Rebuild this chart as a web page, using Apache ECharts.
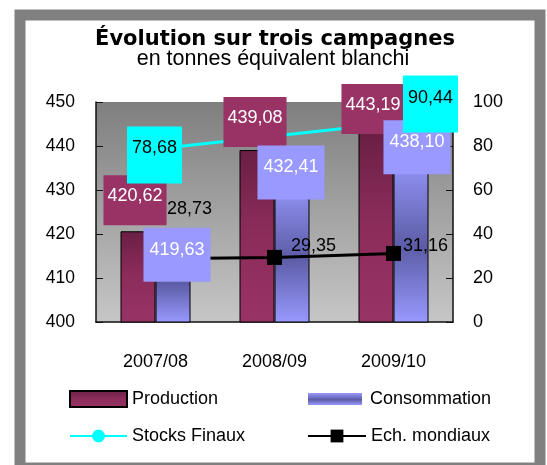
<!DOCTYPE html>
<html>
<head>
<meta charset="utf-8">
<script src="https://cdn.jsdelivr.net/npm/echarts@6/dist/echarts.min.js"></script>
<style>
    html, body { margin: 0; padding: 0; background: #fff; }
    #chart { width: 547px; height: 465px; }
</style>
</head>
<body>
<div id="chart"></div>
<script>
// values
const campagnes = ['2007/08', '2008/09', '2009/10']
const production = [420.62, 439.08, 443.19]
const consommation = [419.63, 432.41, 438.10]
const stocksFinaux = [78.68, 84.5, 90.44]
const echMondiaux = [28.73, 29.35, 31.16]

// where each data label sits, relative to its mark (px)
const prodOffsets = [[-3, -6], [-2, -3], [-3, 2]]
const consoOffsets = [[4, 46], [-1, 20], [6, 20]]
const stockOffsets = [[-1, 35], null, [37, 10]]
const echOffsets = [[34, -33], [39, 5], [32, 9]]

const font = 'Liberation Sans, Arial, sans-serif'
const fr = v => v.toFixed(2).replace('.', ',')

function withLabels (values, offsets, base) {
    return values.map(function (v, i) {
        if (!offsets[i]) {
            return { value: v, label: { show: false } }
        }
        return { value: v, label: Object.assign({}, base, { offset: offsets[i] }) }
    })
}

const boxLabel = {
    show: true,
    position: 'top',
    distance: 0,
    fontSize: 18,
    lineHeight: 18,
    fontFamily: font,
    formatter: p => fr(p.value)
}

const prodLabel = Object.assign({}, boxLabel, { color: '#fff', backgroundColor: '#993366', padding: [12, 4, 20, 4] })
const consoLabel = Object.assign({}, boxLabel, { color: '#fff', backgroundColor: '#9999ff', padding: [13, 6, 23, 6] })
const stockLabel = Object.assign({}, boxLabel, { color: '#000', backgroundColor: '#00ffff', padding: [13, 5, 26, 5] })
const echLabel = Object.assign({}, boxLabel, { color: '#000' })

const legendText = { fontFamily: font, fontSize: 18, color: '#000' }

let chart = echarts.init(document.getElementById('chart'))
chart.setOption({
    animation: false,
    backgroundColor: '#fff',
    graphic: [
        {
            type: 'rect',
            shape: { x: 20, y: 15, width: 520, height: 453 },
            style: { fill: 'none', stroke: '#808080', lineWidth: 11 },
            silent: true
        }
    ],
    title: [
        {
            text: 'Évolution sur trois campagnes',
            left: 270,
            top: 24,
            textAlign: 'center',
            textStyle: { fontFamily: 'DejaVu Sans', fontWeight: 'bold', fontSize: 21, color: '#000' }
        },
        {
            text: 'en tonnes équivalent blanchi',
            left: 268,
            top: 43,
            textAlign: 'center',
            textStyle: { fontFamily: font, fontWeight: 'normal', fontSize: 21.5, color: '#000' }
        }
    ],
    legend: [
        { data: ['Production'], left: 69, top: 390, padding: 0, icon: 'rect', itemWidth: 57, itemHeight: 16,
          textStyle: legendText },
        { data: ['Consommation'], left: 308, top: 390, padding: 0, icon: 'rect', itemWidth: 54, itemHeight: 12,
          itemStyle: { borderWidth: 0 },
          textStyle: Object.assign({ padding: [0, 0, 0, 3] }, legendText) },
        { data: ['Stocks Finaux'], left: 69, top: 427, padding: 0, itemWidth: 57, itemHeight: 16,
          textStyle: legendText },
        { data: ['Ech. mondiaux'], left: 307, top: 427, padding: 0, itemWidth: 58, itemHeight: 16,
          textStyle: legendText }
    ],
    grid: {
        left: 96,
        right: 94,
        top: 102,
        bottom: 143,
        show: true,
        borderWidth: 0,
        backgroundColor: new echarts.graphic.LinearGradient(0, 0, 0, 1, [
            { offset: 0, color: '#7f7f7f' },
            { offset: 1, color: '#c6c6c6' }
        ])
    },
    xAxis: [
        {
            type: 'category',
            data: campagnes,
            axisLine: { lineStyle: { color: '#111', width: 1.5 } },
            axisTick: { inside: true, length: 6, lineStyle: { color: '#111' } },
            axisLabel: { fontFamily: font, fontSize: 18, color: '#000', margin: 31 }
        },
        {
            // same categories, only carries the bar labels above the lines
            type: 'category',
            data: campagnes,
            show: false
        }
    ],
    yAxis: [
        {
            type: 'value',
            min: 400,
            max: 450,
            interval: 10,
            splitLine: { show: false },
            axisLine: { show: true, lineStyle: { color: '#111', width: 1.5 } },
            axisTick: { show: true, inside: true, length: 7, lineStyle: { color: '#111' } },
            axisLabel: { fontFamily: font, fontSize: 17.5, color: '#000', margin: 21 }
        },
        {
            type: 'value',
            min: 0,
            max: 100,
            interval: 20,
            position: 'right',
            splitLine: { show: false },
            axisLine: { show: true, lineStyle: { color: '#111', width: 1.5 } },
            axisTick: { show: true, inside: true, length: 7, lineStyle: { color: '#111' } },
            axisLabel: { fontFamily: font, fontSize: 18, color: '#000', margin: 20 }
        }
    ],
    series: [
        {
            name: 'Production',
            type: 'bar',
            z: 2,
            barWidth: 35,
            barGap: '0%',
            itemStyle: {
                color: new echarts.graphic.LinearGradient(0, 0, 0, 1, [
                    { offset: 0, color: '#6a1f44' },
                    { offset: 0.45, color: '#8a2c5a' },
                    { offset: 1, color: '#993366' }
                ]),
                borderColor: '#000',
                borderWidth: 1
            },
            data: production
        },
        {
            name: 'Consommation',
            type: 'bar',
            z: 2,
            barWidth: 35,
            itemStyle: {
                color: new echarts.graphic.LinearGradient(0, 0, 0, 1, [
                    { offset: 0, color: '#9999ff' },
                    { offset: 0.55, color: '#5c5ca6' },
                    { offset: 1, color: '#9999ff' }
                ]),
                borderColor: '#000',
                borderWidth: 1
            },
            data: consommation
        },
        {
            name: 'Stocks Finaux',
            type: 'line',
            yAxisIndex: 1,
            z: 3,
            symbol: 'circle',
            symbolSize: 13,
            color: '#00ffff',
            lineStyle: { color: '#00ffff', width: 3 },
            itemStyle: { color: '#00ffff' },
            data: stocksFinaux
        },
        {
            name: 'Ech. mondiaux',
            type: 'line',
            yAxisIndex: 1,
            z: 3,
            symbol: 'rect',
            symbolSize: 15,
            color: '#000',
            lineStyle: { color: '#000', width: 3 },
            itemStyle: { color: '#000' },
            data: withLabels(echMondiaux, echOffsets, echLabel)
        },
        // label carriers, drawn over the lines
        {
            name: 'Production-labels',
            type: 'bar',
            xAxisIndex: 1,
            z: 4,
            barWidth: 35,
            barGap: '0%',
            silent: true,
            itemStyle: { color: 'transparent' },
            data: withLabels(production, prodOffsets, prodLabel)
        },
        {
            name: 'Consommation-labels',
            type: 'bar',
            xAxisIndex: 1,
            z: 4,
            barWidth: 35,
            silent: true,
            itemStyle: { color: 'transparent' },
            data: withLabels(consommation, consoOffsets, consoLabel)
        },
        {
            name: 'Stocks-labels',
            type: 'line',
            yAxisIndex: 1,
            z: 5,
            silent: true,
            symbol: 'circle',
            symbolSize: 1,
            lineStyle: { width: 0, color: 'transparent' },
            itemStyle: { color: 'transparent' },
            data: withLabels(stocksFinaux, stockOffsets, stockLabel)
        }
    ]
})
</script>
</body>
</html>
